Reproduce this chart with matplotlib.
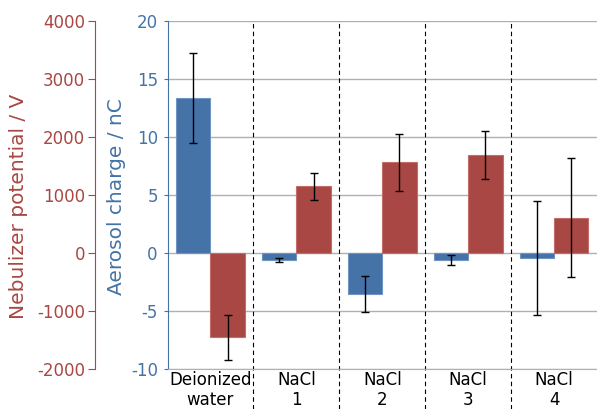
import numpy as np
import matplotlib
matplotlib.use('Agg')
import matplotlib.pyplot as plt

# 資料
groups = ['Deionized\nwater', 'NaCl\n1', 'NaCl\n2', 'NaCl\n3', 'NaCl\n4']
charge = [13.35, -0.6, -3.55, -0.6, -0.4]          # nC
charge_err = [3.85, 0.2, 1.55, 0.4, 4.9]
potential = [-1450, 1150, 1560, 1690, 610]         # V
potential_err = [390, 235, 495, 415, 1020]

blue = '#4572A7'
red = '#A84743'

plt.rcParams['font.family'] = 'DejaVu Sans'
plt.rcParams['axes.unicode_minus'] = False

fig = plt.figure(figsize=(5.97, 4.09), dpi=100)
ax = fig.add_axes([0.2806, 0.0971, 0.7194, 0.8523])

x = np.arange(len(groups))
w = 0.4

# 氣溶膠電荷 (藍)
ax.bar(x - w / 2, charge, w, color=blue, edgecolor='#6F93C2', linewidth=0.8, zorder=3)
ax.errorbar(x - w / 2, charge, yerr=charge_err, fmt='none', ecolor='black',
            elinewidth=1, capsize=3, capthick=1, zorder=4)

ax.set_xlim(-0.5, 4.5)
ax.set_ylim(-10, 20)
ax.set_yticks(range(-10, 21, 5))
ax.set_xticks(x)
ax.set_xticklabels(groups, fontsize=12, linespacing=1.1)
ax.tick_params(axis='x', length=0, pad=1.5)
ax.tick_params(axis='y', colors=blue, labelsize=12, length=3, pad=4)
ax.yaxis.grid(True, color='#B0B0B0', linewidth=1, zorder=0)
ax.set_axisbelow(True)
for s in ['top', 'right']:
    ax.spines[s].set_visible(False)
ax.spines['bottom'].set_color('#B0B0B0')
ax.spines['left'].set_color(blue)
ax.set_ylabel('Aerosol charge / nC', color=blue, fontsize=14.5)
ax.yaxis.set_label_coords(-0.0966, 0.496)

# 分隔虛線
for xs in [0.5, 1.5, 2.5, 3.5]:
    ax.axvline(xs, ymin=-0.114, ymax=1, color='black', linestyle=(0, (4, 3)),
               linewidth=0.8, clip_on=False, zorder=2)

# 霧化器電位 (紅)
ax2 = ax.twinx()
ax2.bar(x + w / 2, potential, w, color=red, edgecolor='#C46E6A', linewidth=0.8, zorder=3)
ax2.errorbar(x + w / 2, potential, yerr=potential_err, fmt='none', ecolor='black',
             elinewidth=1, capsize=3, capthick=1, zorder=4)
ax2.set_ylim(-2000, 4000)
ax2.set_yticks(range(-2000, 4001, 1000))
ax2.yaxis.set_ticks_position('left')
ax2.yaxis.set_label_position('left')
for s in ['top', 'right', 'bottom']:
    ax2.spines[s].set_visible(False)
ax2.spines['left'].set_visible(True)
ax2.spines['left'].set_position(('outward', 52.2))
ax2.spines['left'].set_color(red)
ax2.tick_params(axis='y', colors=red, labelsize=12, length=5, pad=2)
ax2.set_ylabel('Nebulizer potential / V', color=red, fontsize=14.5)
ax2.yaxis.set_label_coords(-0.3248, 0.466)

fig.savefig('out.png', dpi=100)
